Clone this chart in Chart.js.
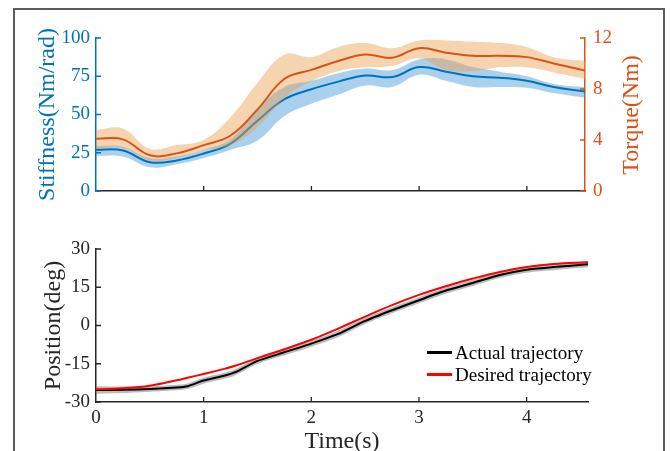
<!DOCTYPE html>
<html>
<head>
<meta charset="utf-8">
<script src="https://cdn.jsdelivr.net/npm/chart.js@4.4.1/dist/chart.umd.min.js"></script>
<style>
  html, body { margin:0; padding:0; background:#fff; }
  body { width:670px; height:451px; overflow:hidden; position:relative; font-family:'Liberation Serif','Times New Roman',serif; }
  #frame { position:absolute; left:13px; top:8px; width:652px; height:480px; border:2px solid #5c5c5c; box-sizing:border-box; }
  #c1 { position:absolute; left:0; top:0; }
  #c2 { position:absolute; left:0; top:220px; }
  #torqueTitle { position:absolute; left:550px; top:101px; width:160px; height:28px; line-height:28px; text-align:center;
    font-size:24px; color:#D95319; transform:rotate(-90deg); transform-origin:50% 50%; white-space:nowrap; }
  .lg { position:absolute; left:427px; height:19px; font-size:19px; line-height:19px; color:#000; white-space:nowrap; }
  .lg span.ln { position:absolute; left:0; top:8px; width:25px; height:2.5px; }
  .lg span.tx { position:absolute; left:28px; top:0; }
</style>
</head>
<body>
<div id="frame"></div>
<canvas id="c1" width="670" height="220"></canvas>
<canvas id="c2" width="670" height="260"></canvas>
<div id="torqueTitle">Torque(Nm)</div>
<div class="lg" style="top:343px"><span class="ln" style="background:#000"></span><span class="tx">Actual trajectory</span></div>
<div class="lg" style="top:365px"><span class="ln" style="background:#ff0000"></span><span class="tx">Desired trajectory</span></div>
<script>
// ---------- data ----------
const stiffTime   = [0,0.25,0.5,0.75,1,1.25,1.5,1.75,2,2.25,2.5,2.75,3,3.25,3.5,3.75,4,4.25,4.54];
const stiffMean   = [27,26.5,18.8,20,24.5,31,46,60,66.5,71.5,75.5,74.5,81,78,75,74,72,68,65];
const stiffUpper  = [29.5,29,21.5,22.5,27,34,54,68,72,77,80,79,86,86,81,78,75,70,68];
const stiffLower  = [23,22.5,15.5,17.5,21.5,27,33,49,57,63,69,68,76,72,68,68,67.5,64,61];
const torqueMean  = [4.1,4.05,2.8,2.95,3.6,4.35,6.4,8.8,9.5,10.2,10.7,10.45,11.2,10.85,10.6,10.6,10.5,10.0,9.45];
const torqueUpper = [4.8,4.9,3.3,3.6,4.0,5.8,8.5,10.7,10.5,11.3,11.6,11.2,11.8,11.8,11.7,11.6,11.3,10.5,10.2];
const torqueLower = [3.3,3.4,2.4,2.6,3.2,3.6,5.0,7.3,8.6,9.4,9.7,9.8,10.4,9.5,9.4,9.7,9.7,9.3,8.8];

const posTime     = [0,0.25,0.5,0.75,0.85,1,1.2,1.3,1.5,1.75,2,2.25,2.5,2.75,3,3.25,3.5,3.75,4,4.25,4.57];
const desiredPos  = [-25,-24.6,-23.6,-21.5,-20.5,-19,-16.9,-15.7,-12.8,-9.3,-5.6,-1.2,3.5,8,12,15.4,18.4,21,22.9,24.1,24.8];
const actualPos   = [-25.3,-25.2,-24.9,-24.3,-23.8,-21.6,-19.6,-18.2,-13.9,-10.5,-7.1,-3.3,1.8,6.0,9.9,13.7,16.7,19.8,21.9,22.9,24.0];
const actualUpper = [-23.8,-23.9,-23.8,-23.2,-22.7,-20.4,-18.4,-17.0,-12.7,-9.3,-5.9,-2.1,3.0,7.2,11.1,14.9,17.9,21.0,23.1,24.1,25.2];
const actualLower = [-26.8,-26.5,-26.0,-25.4,-24.9,-22.8,-20.8,-19.4,-15.1,-11.7,-8.3,-4.5,0.6,4.8,8.7,12.5,15.5,18.6,20.7,21.7,22.8];

const xTicks      = [0,1,2,3,4];
const stiffTicks  = [0,25,50,75,100];
const torqueTicks = [0,4,8,12];
const posTicks    = [-30,-15,0,15,30];
const xLabel = 'Time(s)';
const stiffLabel = 'Stiffness(Nm/rad)';
const posLabel = 'Position(deg)';

// ---------- styles ----------
const BLUE = '#0072BD', ORANGE = '#D95319', AX = '#262626';
const FONT = "'Liberation Serif','Times New Roman',serif";
Chart.defaults.font.family = FONT;
const TICK_SIZE = 19;

const pts = (xs, ys) => xs.map((x, i) => ({x, y: ys[i]}));
const setTicks = arr => s => { s.ticks = arr.map(v => ({value: v})); };

const inwardTicks = {
  id: 'inwardTicks',
  afterDatasetsDraw(chart) {
    const ctx = chart.ctx, len = 5;
    ctx.save();
    Object.values(chart.scales).forEach(s => {
      ctx.strokeStyle = s.options.border.color;
      ctx.lineWidth = 1.3;
      ctx.beginPath();
      s.ticks.forEach(t => {
        const p = s.getPixelForValue(t.value);
        if (s.isHorizontal()) {
          if (t.value === s.min) return;
          ctx.moveTo(p, s.top); ctx.lineTo(p, s.top - len);
        } else if (s.position === 'left') {
          ctx.moveTo(s.right, p); ctx.lineTo(s.right + len, p);
        } else {
          ctx.moveTo(s.left, p); ctx.lineTo(s.left - len, p);
        }
      });
      ctx.stroke();
    });
    ctx.restore();
  }
};

const lineDs = (label, data, axis, color, order, extra) => Object.assign({
  label, data, yAxisID: axis, borderColor: color, borderWidth: 2, pointRadius: 0,
  tension: 0.4, fill: false, order
}, extra || {});
const edgeDs = (label, data, axis, order, fill, bg) => ({
  label, data, yAxisID: axis, borderColor: 'rgba(0,0,0,0)', borderWidth: 0, pointRadius: 0,
  tension: 0.4, fill, backgroundColor: bg, order
});

// ---------- top chart ----------
new Chart(document.getElementById('c1'), {
  type: 'line',
  data: {
    datasets: [
      lineDs('Torque', pts(stiffTime, torqueMean), 'yT', ORANGE, 0),
      edgeDs('Torque upper', pts(stiffTime, torqueUpper), 'yT', 1, false, 'rgba(0,0,0,0)'),
      edgeDs('Torque lower', pts(stiffTime, torqueLower), 'yT', 1, '-1', 'rgba(235,160,80,0.45)'),
      lineDs('Stiffness', pts(stiffTime, stiffMean), 'yS', BLUE, 2),
      edgeDs('Stiffness upper', pts(stiffTime, stiffUpper), 'yS', 3, false, 'rgba(0,0,0,0)'),
      edgeDs('Stiffness lower', pts(stiffTime, stiffLower), 'yS', 3, '-1', 'rgba(40,140,210,0.40)')
    ]
  },
  options: {
    responsive: false, animation: false,
    layout: { padding: { left: 30, right: 25, top: 38, bottom: 28 } },
    plugins: { legend: { display: false }, tooltip: { enabled: false } },
    scales: {
      x: {
        type: 'linear', min: 0, max: 4.54,
        afterBuildTicks: setTicks(xTicks),
        ticks: { display: false },
        grid: { display: false, drawTicks: false },
        border: { color: AX, width: 1.5 },
        afterFit: s => { s.height = 1; }
      },
      yS: {
        position: 'left', min: 0, max: 100,
        afterBuildTicks: setTicks(stiffTicks),
        ticks: { color: BLUE, font: { size: TICK_SIZE }, padding: 6 },
        grid: { display: false, drawTicks: false },
        border: { color: BLUE, width: 1.5 },
        title: { display: true, text: stiffLabel, color: BLUE, font: { size: 24 }, padding: { top: 3, bottom: 0 } },
        afterFit: s => { s.width = 66; }
      },
      yT: {
        position: 'right', min: 0, max: 12,
        afterBuildTicks: setTicks(torqueTicks),
        ticks: { color: ORANGE, font: { size: TICK_SIZE }, padding: 8 },
        grid: { display: false, drawTicks: false },
        border: { color: ORANGE, width: 1.5 },
        afterFit: s => { s.width = 60; }
      }
    }
  },
  plugins: [inwardTicks]
});

// ---------- bottom chart ----------
new Chart(document.getElementById('c2'), {
  type: 'line',
  data: {
    datasets: [
      lineDs('Desired trajectory', pts(posTime, desiredPos), 'y', '#ff0000', 0),
      lineDs('Actual trajectory', pts(posTime, actualPos), 'y', '#000000', 1, { tension: 0.2 }),
      edgeDs('Actual upper', pts(posTime, actualUpper), 'y', 2, false, 'rgba(0,0,0,0)'),
      edgeDs('Actual lower', pts(posTime, actualLower), 'y', 2, '-1', 'rgba(120,120,120,0.5)')
    ]
  },
  options: {
    responsive: false, animation: false,
    layout: { padding: { left: 30, right: 82, top: 29, bottom: 24 } },
    plugins: { legend: { display: false }, tooltip: { enabled: false } },
    scales: {
      x: {
        type: 'linear', min: 0, max: 4.57,
        afterBuildTicks: setTicks(xTicks),
        ticks: { color: AX, font: { size: TICK_SIZE }, padding: 5, maxRotation: 0 },
        grid: { display: false, drawTicks: false },
        border: { color: AX, width: 1.5 },
        title: { display: true, text: xLabel, color: AX, font: { size: 24 }, padding: { top: 0, bottom: 0 } },
        afterFit: s => { s.height = 54; }
      },
      y: {
        position: 'left', min: -30, max: 30,
        afterBuildTicks: setTicks(posTicks),
        ticks: { color: AX, font: { size: TICK_SIZE }, padding: 6 },
        grid: { display: false, drawTicks: false },
        border: { color: AX, width: 1.5 },
        title: { display: true, text: posLabel, color: AX, font: { size: 24 }, padding: { top: 9, bottom: 0 } },
        afterFit: s => { s.width = 66; }
      }
    }
  },
  plugins: [inwardTicks]
});
</script>
</body>
</html>
